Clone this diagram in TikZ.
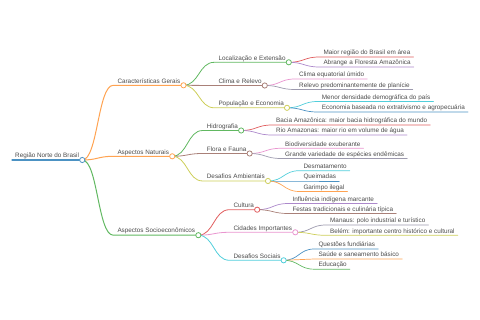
\documentclass[tikz,border=0pt]{standalone}
\usepackage{fontspec}
\setmainfont{Liberation Sans}
\usetikzlibrary{calc}
\definecolor{kBlue}{HTML}{1F77B4}
\definecolor{kOrange}{HTML}{FF7F0E}
\definecolor{kGreen}{HTML}{2CA02C}
\definecolor{kRed}{HTML}{D62728}
\definecolor{kPurple}{HTML}{9467BD}
\definecolor{kBrown}{HTML}{8C564B}
\definecolor{kPink}{HTML}{E377C2}
\definecolor{kGray}{HTML}{85809A}
\definecolor{kOlive}{HTML}{BCBD22}
\definecolor{kCyan}{HTML}{17BECF}
\colorlet{cBlue}{kBlue!80!white}
\colorlet{cOrange}{kOrange!72!white}
\colorlet{cGreen}{kGreen!75!white}
\colorlet{cRed}{kRed!75!white}
\colorlet{cPurple}{kPurple!78!white}
\colorlet{cBrown}{kBrown!75!white}
\colorlet{cPink}{kPink!78!white}
\colorlet{cGray}{kGray!80!white}
\colorlet{cOlive}{kOlive!75!white}
\colorlet{cCyan}{kCyan!75!white}
\definecolor{txt}{HTML}{4A4A4A}
% #1 name, #2 parent, #3 line style, #4 text x, #5 line y, #6 text
\newcommand\mmitem[6]{%
  \node[lbl] (#1) at (#4,#5-2.2) {#6};
  \coordinate (#1-l) at (#4-4,#5);
  \coordinate (#1-e) at (#1.base east |- #1-l);
  \coordinate (#1-r) at ([xshift=3pt]#1-e);
  \draw[link,#3] let \p1=(#2-r), \p2=(#1-l) in
    (\p1) .. controls ({(\x1+\x2)/2},\y1) and ({(\x1+\x2)/2},\y2) .. (\p2) -- (#1-r);
}
\begin{document}
\begin{tikzpicture}[x=1pt,y=-1pt,
  lbl/.style={anchor=base west,inner sep=0pt,font=\fontsize{6.35}{7.5}\selectfont,text=txt},
  link/.style={line cap=round},
  lv0/.style={line width=1.3pt}, lv1/.style={line width=1.0pt},
  lv2/.style={line width=0.8pt}, lv3/.style={line width=0.7pt},
  knob/.style={circle,fill=white,inner sep=0pt,minimum size=5.2pt,line width=0.8pt}]
\useasboundingbox (0,0) rectangle (480,320);

% root
\node[lbl] (r) at (15,160-2.2) {Região Norte do Brasil};
\coordinate (r-l) at (12,160);
\coordinate (r-e) at (r.base east |- r-l);
\coordinate (r-r) at ([xshift=3pt]r-e);
\draw[link,lv0,cBlue] (r-l) -- (r-r);

% Caracteristicas Gerais
\mmitem{a}{r}{lv1,cOrange}{117.3}{85.3}{Características Gerais}
\mmitem{aa}{a}{lv2,cGreen}{218.3}{62.3}{Localização e Extensão}
\mmitem{aaa}{aa}{lv3,cRed}{323.3}{57}{Maior região do Brasil em área}
\mmitem{aab}{aa}{lv3,cPurple}{323.3}{67}{Abrange a Floresta Amazônica}
\mmitem{ab}{a}{lv2,cBrown}{218.3}{85.5}{Clima e Relevo}
\mmitem{aba}{ab}{lv3,cPink}{299}{79}{Clima equatorial úmido}
\mmitem{abb}{ab}{lv3,cGray}{299}{89.5}{Relevo predominantemente de planície}
\mmitem{ac}{a}{lv2,cOlive}{218.3}{107.8}{População e Economia}
\mmitem{aca}{ac}{lv3,cCyan}{321.7}{101.5}{Menor densidade demográfica do país}
\mmitem{acb}{ac}{lv3,cBlue}{321.7}{112}{Economia baseada no extrativismo e agropecuária}

% Aspectos Naturais
\mmitem{b}{r}{lv1,cOrange}{117.3}{156.3}{Aspectos Naturais}
\mmitem{ba}{b}{lv2,cGreen}{206.7}{130.5}{Hidrografia}
\mmitem{baa}{ba}{lv3,cRed}{276}{125}{Bacia Amazônica: maior bacia hidrográfica do mundo}
\mmitem{bab}{ba}{lv3,cPurple}{276}{135}{Rio Amazonas: maior rio em volume de água}
\mmitem{bb}{b}{lv2,cBrown}{206.7}{153.5}{Flora e Fauna}
\mmitem{bba}{bb}{lv3,cPink}{285}{148.3}{Biodiversidade exuberante}
\mmitem{bbb}{bb}{lv3,cGray}{285}{158.5}{Grande variedade de espécies endêmicas}
\mmitem{bc}{b}{lv2,cOlive}{206.7}{181}{Desafios Ambientais}
\mmitem{bca}{bc}{lv3,cCyan}{303.3}{170.7}{Desmatamento}
\mmitem{bcb}{bc}{lv3,cBlue}{303.3}{181}{Queimadas}
\mmitem{bcc}{bc}{lv3,cOrange}{303.3}{191.5}{Garimpo ilegal}

% Aspectos Socioeconomicos
\mmitem{c}{r}{lv1,cGreen}{117.3}{235.2}{Aspectos Socioeconômicos}
\mmitem{ca}{c}{lv2,cRed}{233.3}{209.7}{Cultura}
\mmitem{caa}{ca}{lv3,cPurple}{292.3}{203.5}{Influência indígena marcante}
\mmitem{cab}{ca}{lv3,cBrown}{292.3}{213.5}{Festas tradicionais e culinária típica}
\mmitem{cb}{c}{lv2,cPink}{233.3}{232.3}{Cidades Importantes}
\mmitem{cba}{cb}{lv3,cGray}{330}{225}{Manaus: polo industrial e turístico}
\mmitem{cbb}{cb}{lv3,cOlive}{330}{235.3}{Belém: importante centro histórico e cultural}
\mmitem{cc}{c}{lv2,cCyan}{233.3}{260.3}{Desafios Sociais}
\mmitem{cca}{cc}{lv3,cBlue}{318.3}{249}{Questões fundiárias}
\mmitem{ccb}{cc}{lv3,cOrange}{318.3}{259}{Saúde e saneamento básico}
\mmitem{ccc}{cc}{lv3,cGreen}{318.3}{269.2}{Educação}

% knobs
\node[knob,draw=cBlue] (r-k) at (r-r) {};
\node[knob,draw=cOrange] (a-k) at (a-r) {};
\node[knob,draw=cGreen] (aa-k) at (aa-r) {};
\node[knob,draw=cBrown] (ab-k) at (ab-r) {};
\node[knob,draw=cOlive] (ac-k) at (ac-r) {};
\node[knob,draw=cOrange] (b-k) at (b-r) {};
\node[knob,draw=cGreen] (ba-k) at (ba-r) {};
\node[knob,draw=cBrown] (bb-k) at (bb-r) {};
\node[knob,draw=cOlive] (bc-k) at (bc-r) {};
\node[knob,draw=cGreen] (c-k) at (c-r) {};
\node[knob,draw=cRed] (ca-k) at (ca-r) {};
\node[knob,draw=cPink] (cb-k) at (cb-r) {};
\node[knob,draw=cCyan] (cc-k) at (cc-r) {};
\end{tikzpicture}
\end{document}
